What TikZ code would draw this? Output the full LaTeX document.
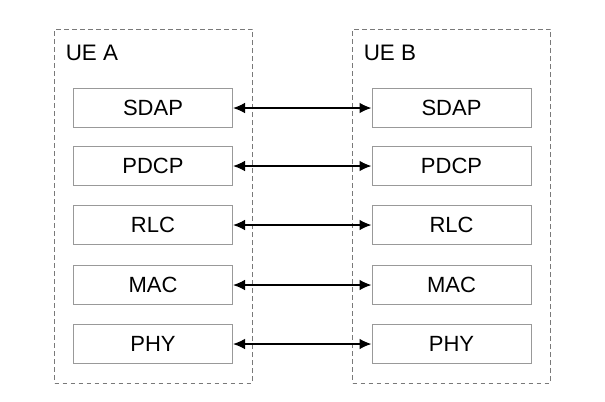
\documentclass[tikz,border=0pt]{standalone}
\usepackage{fontspec}
\setmainfont{Liberation Sans}
\usetikzlibrary{arrows.meta}
\begin{document}
\begin{tikzpicture}[x=0.75pt,y=-0.75pt,
  group/.style={draw=gray!95!black, dashed, dash pattern=on 3.5pt off 2.5pt, line width=0.6pt},
  layer/.style={draw=black!40, line width=0.75pt, minimum width=159*0.75pt, minimum height=39*0.75pt, inner sep=0pt, font=\fontsize{16.5}{18}\selectfont},
  link/.style={line width=1.1pt, {Latex[length=9pt,width=8pt]}-{Latex[length=9pt,width=8pt]}},
  title/.style={anchor=base west, inner sep=0pt, font=\fontsize{16.8}{18}\selectfont}]
\useasboundingbox (0,0) rectangle (605,401);
\fill[white] (0,0) rectangle (605,401);
\node[group, minimum width=198*0.75pt, minimum height=354*0.75pt, inner sep=0pt] (ga) at (153.5,206) {};
\node[group, minimum width=198*0.75pt, minimum height=354*0.75pt, inner sep=0pt] (gb) at (451.5,206) {};
\node[title] (ta) at (65.5,60) {UE A};
\node[title] (tb) at (363.5,60) {UE B};
\foreach \n/\y in {SDAP/108,PDCP/166,RLC/225,MAC/285,PHY/344}{
  \node[layer] (a\n) at (153,\y) {\n};
  \node[layer] (b\n) at (451.5,\y) {\n};
  \draw[link] (a\n.east) -- (b\n.west);
}
\end{tikzpicture}
\end{document}
